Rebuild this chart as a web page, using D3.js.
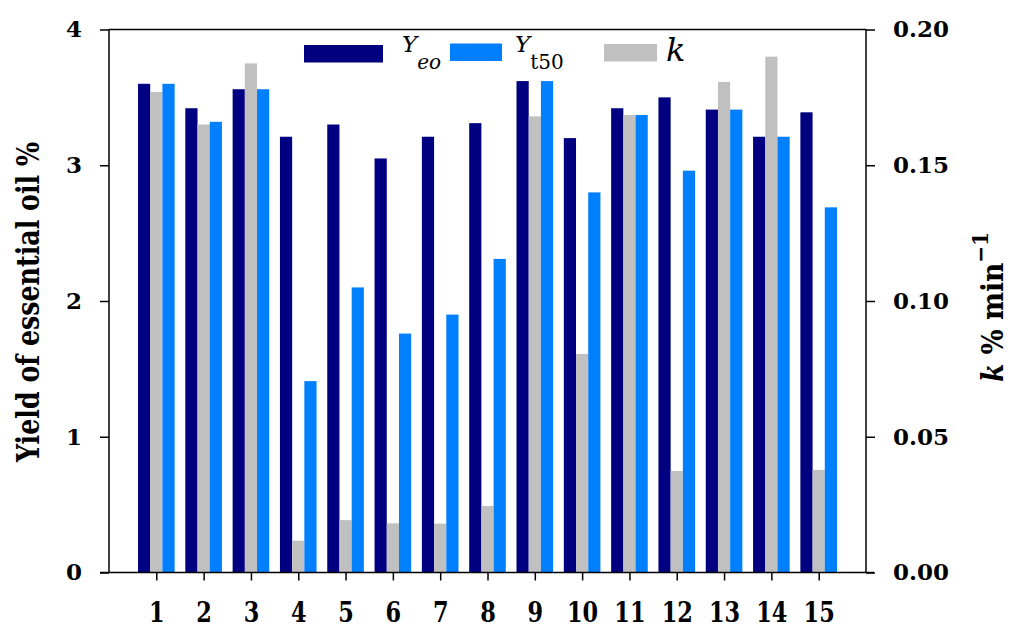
<!DOCTYPE html>
<html>
<head>
<meta charset="utf-8">
<script src="https://cdn.jsdelivr.net/npm/d3@7"></script>
<style>
  html, body { margin: 0; padding: 0; background: #fff; }
  svg { display: block; }
  svg text { font-family: "DejaVu Serif", serif; fill: #000; }
</style>
</head>
<body>
<svg id="chart" width="1011" height="630"></svg>
<script>
const categories = [1, 2, 3, 4, 5, 6, 7, 8, 9, 10, 11, 12, 13, 14, 15];
const yeoValues  = [3.60, 3.42, 3.56, 3.21, 3.30, 3.05, 3.21, 3.31, 3.62, 3.20, 3.42, 3.50, 3.41, 3.21, 3.39];
const yt50Values = [3.60, 3.32, 3.56, 1.41, 2.10, 1.76, 1.90, 2.31, 3.62, 2.80, 3.37, 2.96, 3.41, 3.21, 2.69];
const kValues    = [0.177, 0.165, 0.1875, 0.0117, 0.0193, 0.0181, 0.0180, 0.0245, 0.168, 0.0805, 0.1685, 0.0374, 0.1807, 0.190, 0.0378];
const leftTicks  = [0, 1, 2, 3, 4];
const rightTicks = [0, 0.05, 0.10, 0.15, 0.20];

const svg = d3.select("#chart");
const L = 109, R = 866, T = 29.5, B = 572.5;
const FONT = "DejaVu Serif";

const x = d3.scaleLinear().domain([0, categories.length + 1]).range([L, R]);
const y = d3.scaleLinear().domain([0, 4]).range([B, T]);
const yk = d3.scaleLinear().domain([0, 0.2]).range([B, T]);

const step = x(1) - x(0);
const bw = step * 0.258;

const series = [
  { name: "yeo", values: yeoValues, scale: y, color: "#000080", off: -1.5 },
  { name: "k", values: kValues, scale: yk, color: "#C0C0C0", off: -0.5 },
  { name: "yt50", values: yt50Values, scale: y, color: "#0080FF", off: 0.5 }
];

const bars = svg.append("g");
series.forEach(s => {
  bars.selectAll("rect." + s.name)
    .data(categories.map((c, i) => ({ c, v: s.values[i] })))
    .join("rect")
    .attr("class", s.name)
    .attr("x", d => x(d.c) + s.off * bw)
    .attr("width", bw)
    .attr("y", d => s.scale(d.v))
    .attr("height", d => B - s.scale(d.v))
    .attr("fill", s.color);
});

const leftAxis = svg.append("g")
  .attr("transform", `translate(${L},0)`)
  .call(d3.axisLeft(y).tickValues(leftTicks).tickFormat(d3.format("d")).tickSize(9).tickPadding(18));
const rightAxis = svg.append("g")
  .attr("transform", `translate(${R},0)`)
  .call(d3.axisRight(yk).tickValues(rightTicks).tickFormat(d3.format(".2f")).tickSize(9).tickPadding(18));
const bottomAxis = svg.append("g")
  .attr("transform", `translate(0,${B})`)
  .call(d3.axisBottom(x).tickValues(categories).tickFormat(d3.format("d")).tickSize(8).tickPadding(22));

[leftAxis, rightAxis, bottomAxis].forEach(a => {
  a.attr("font-family", FONT);
  a.select(".domain").remove();
  a.selectAll(".tick line").attr("stroke", "#000").attr("stroke-width", 1.5);
});

leftAxis.selectAll(".tick text").attr("font-size", 23).attr("font-weight", "bold");
rightAxis.selectAll(".tick text").attr("font-size", 23).attr("font-weight", "bold");
bottomAxis.selectAll(".tick text")
  .attr("font-size", 28)
  .attr("font-weight", "bold")
  .attr("transform", "scale(0.8,1)");

svg.append("line").attr("x1", L).attr("x2", L).attr("y1", T).attr("y2", B).attr("stroke", "#000").attr("stroke-width", 1.5);
svg.append("line").attr("x1", R).attr("x2", R).attr("y1", T).attr("y2", B).attr("stroke", "#000").attr("stroke-width", 1.5);
svg.append("line").attr("x1", L - 9).attr("x2", R + 8).attr("y1", B).attr("y2", B).attr("stroke", "#000").attr("stroke-width", 1.5);
svg.append("line").attr("x1", L).attr("x2", R).attr("y1", T).attr("y2", T).attr("stroke", "#000").attr("stroke-width", 1.5);

svg.append("text")
  .attr("transform", "translate(39,302) rotate(-90)")
  .attr("text-anchor", "middle")
  .attr("font-family", FONT)
  .attr("font-size", 31)
  .attr("font-weight", "bold")
  .attr("textLength", 320)
  .attr("lengthAdjust", "spacingAndGlyphs")
  .text("Yield of essential oil %");

const rt = svg.append("text")
  .attr("transform", "translate(1003,307) rotate(-90)")
  .attr("text-anchor", "middle")
  .attr("font-family", FONT)
  .attr("font-size", 29)
  .attr("font-weight", "bold")
  .attr("textLength", 150)
  .attr("lengthAdjust", "spacingAndGlyphs");
rt.append("tspan").attr("font-style", "italic").text("k");
rt.append("tspan").text(" % min");
rt.append("tspan").attr("dy", -15).attr("font-size", 22).text("\u22121");

const legend = [
  { label: "Y", sub: "eo", subItalic: true, color: "#000080", x: 304, w: 79, y: 45, tx: 402, fs: 23 },
  { label: "Y", sub: "t50", subItalic: false, color: "#0080FF", x: 450, w: 52, y: 43.5, tx: 515, fs: 23 },
  { label: "k", sub: null, color: "#C0C0C0", x: 604, w: 53, y: 44, tx: 666, fs: 32 }
];
const lg = svg.append("g").attr("font-family", FONT);
legend.forEach(l => {
  lg.append("rect").attr("x", l.x).attr("y", l.y).attr("width", l.w).attr("height", 17.5).attr("fill", l.color);
  const t = lg.append("text").attr("x", l.tx).attr("y", l.sub ? 52 : 61).attr("font-size", l.fs);
  t.append("tspan").attr("font-style", "italic").text(l.label);
  if (l.sub) {
    t.append("tspan").attr("dy", 17).attr("font-size", 20).attr("font-style", l.subItalic ? "italic" : "normal").text(l.sub);
  }
});
</script>
</body>
</html>
